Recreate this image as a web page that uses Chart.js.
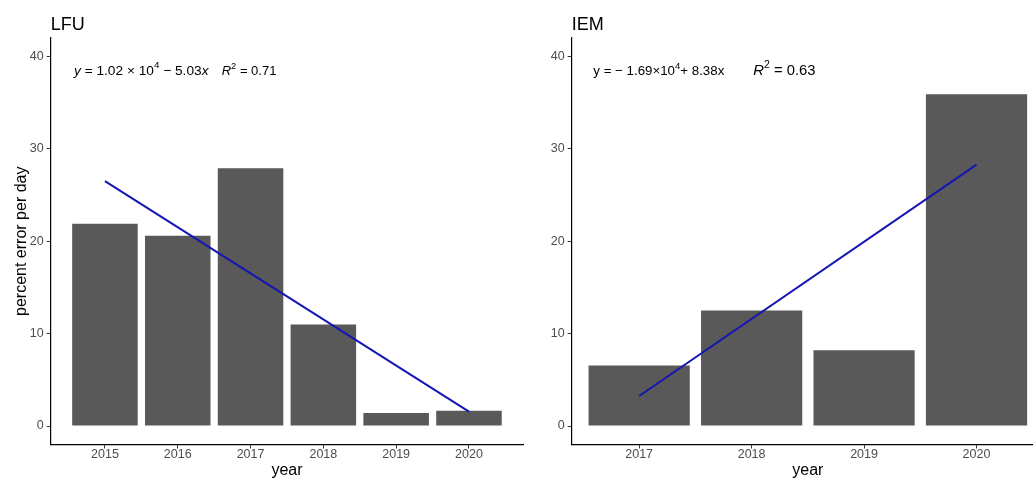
<!DOCTYPE html>
<html><head><meta charset="utf-8">
<script src="https://cdn.jsdelivr.net/npm/chart.js@4.4.1/dist/chart.umd.min.js"></script>
<style>
html,body{margin:0;padding:0;background:#fff;overflow:hidden;width:1033px;height:479px;position:relative;}
.panel{position:absolute;top:0;height:479px;}
#p1{left:0;width:526px;}
#p2{left:526px;width:534px;}
</style></head><body>
<div class="panel" id="p1"><canvas id="c1"></canvas></div>
<div class="panel" id="p2"><canvas id="c2"></canvas></div>
<script>
// ---- data ----
const yTicks = [0, 10, 20, 30, 40];
const lfuYears = [2015, 2016, 2017, 2018, 2019, 2020];
const lfuValues = [21.9, 20.6, 27.9, 11.0, 1.4, 1.65];
const lfuFitYears = [2015, 2020];
const lfuFitValues = [26.5, 1.55];
const iemYears = [2017, 2018, 2019, 2020];
const iemValues = [6.55, 12.5, 8.2, 35.9];
const iemFitYears = [2017, 2020];
const iemFitValues = [3.25, 28.3];

const FAM = '"Liberation Sans", Arial, sans-serif';

function rich(ctx, x, y, parts, size) {
  for (const p of parts) {
    const fs = p.sup ? size * 0.72 : size;
    ctx.font = (p.i ? 'italic ' : '') + fs + 'px ' + FAM;
    const dy = p.sup ? -size * 0.45 : 0;
    ctx.fillText(p.t, x, y + dy);
    x += ctx.measureText(p.t).width;
  }
  return x;
}

function makeChart(id, cfg) {
  const annot = {
    id: 'annot_' + id,
    afterDraw(chart) {
      const ctx = chart.ctx;
      ctx.save();
      ctx.fillStyle = '#000';
      ctx.textAlign = 'left';
      ctx.textBaseline = 'alphabetic';
      ctx.font = '18px ' + FAM;
      ctx.fillText(cfg.title, chart.chartArea.left, 29.5);
      for (const g of cfg.eq) {
        rich(ctx, g.x, g.y, g.parts, g.size);
      }
      ctx.restore();
    }
  };
  const gridOpts = { offset: false, drawOnChartArea: false, drawTicks: true, tickLength: 4, color: '#333', lineWidth: 1 };
  const borderOpts = { display: true, color: '#000', width: 1.2 };
  return new Chart(document.getElementById(id), {
    type: 'bar',
    data: {
      datasets: [
        {
          type: 'line',
          data: cfg.fitYears.map((x, i) => ({ x: x, y: cfg.fitValues[i] })),
          borderColor: '#1515b4',
          borderWidth: 2,
          pointRadius: 0,
          fill: false,
          tension: 0,
          order: 0
        },
        {
          type: 'bar',
          data: cfg.years.map((x, i) => ({ x: x, y: cfg.values[i] })),
          backgroundColor: '#595959',
          borderWidth: 0,
          barPercentage: 0.9,
          categoryPercentage: 1.0,
          order: 1
        }
      ]
    },
    options: {
      responsive: true,
      maintainAspectRatio: false,
      animation: false,
      devicePixelRatio: 1,
      layout: { padding: { left: 0, right: cfg.padRight, top: 38, bottom: 0 } },
      plugins: { legend: { display: false }, tooltip: { enabled: false } },
      scales: {
        x: {
          type: 'linear',
          min: cfg.xMin,
          max: cfg.xMax,
          offset: false,
          grid: gridOpts,
          border: borderOpts,
          afterBuildTicks: s => { s.ticks = cfg.years.map(v => ({ value: v })); },
          afterFit: s => { s.height = 34.5; },
          ticks: {
            autoSkip: false, maxRotation: 0, padding: 0,
            color: '#4d4d4d',
            font: { size: 12.5, family: FAM, lineHeight: 1 },
            callback: v => String(v)
          },
          title: {
            display: true, text: 'year', color: '#000',
            font: { size: 16, family: FAM, lineHeight: 1 },
            padding: { top: 0, bottom: 0 }
          }
        },
        y: {
          type: 'linear',
          min: -2,
          max: 42,
          grid: gridOpts,
          border: borderOpts,
          afterBuildTicks: s => { s.ticks = yTicks.map(v => ({ value: v })); },
          afterFit: s => { s.width = cfg.yWidth; },
          ticks: {
            padding: 3, color: '#4d4d4d',
            font: { size: 12.5, family: FAM },
            callback: v => String(v)
          },
          title: {
            display: !!cfg.yTitle, text: cfg.yTitle || '', color: '#000',
            font: { size: 16, family: FAM, lineHeight: 1 },
            padding: { top: 13.5, bottom: 0 }
          }
        }
      }
    },
    plugins: [annot]
  });
}

makeChart('c1', {
  title: 'LFU',
  years: lfuYears, values: lfuValues,
  fitYears: lfuFitYears, fitValues: lfuFitValues,
  xMin: 2014.255, xMax: 2020.745,
  yWidth: 50.7, padRight: 2.8,
  yTitle: 'percent error per day',
  eq: [
    { x: 74, y: 74.5, size: 13.7, parts: [
      { t: 'y', i: 1 }, { t: ' = 1.02 \u00d7 10' }, { t: '4', sup: 1 }, { t: ' \u2212 5.03' }, { t: 'x', i: 1 } ] },
    { x: 221.7, y: 74.5, size: 13, parts: [
      { t: 'R', i: 1 }, { t: '2', sup: 1 }, { t: ' = 0.71' } ] }
  ]
});

makeChart('c2', {
  title: 'IEM',
  years: iemYears, values: iemValues,
  fitYears: iemFitYears, fitValues: iemFitValues,
  xMin: 2016.4, xMax: 2020.6,
  yWidth: 45.7, padRight: 16,
  yTitle: '',
  eq: [
    { x: 593.3 - 526, y: 75, size: 13.3, parts: [
      { t: 'y = \u2212 1.69\u00d710' }, { t: '4', sup: 1 }, { t: '+ 8.38x' } ] },
    { x: 753.3 - 526, y: 75, size: 14.8, parts: [
      { t: 'R', i: 1 }, { t: '2', sup: 1 }, { t: ' = 0.63' } ] }
  ]
});
</script>
</body></html>
